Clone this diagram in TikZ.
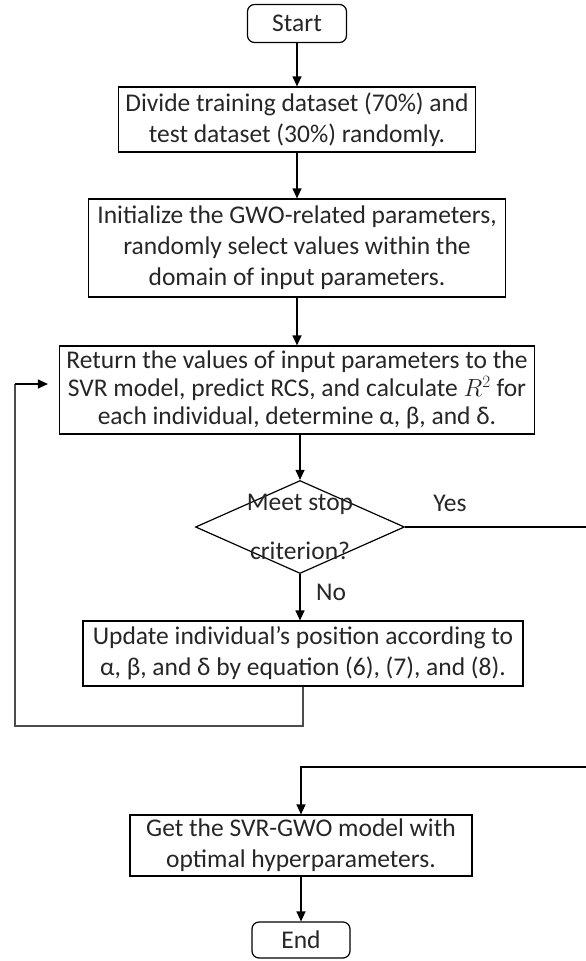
\documentclass[tikz,border=0pt]{standalone}
\usepackage{fontspec}
\setmainfont{Carlito}
\usetikzlibrary{shapes.geometric,arrows.meta}
\begin{document}
\begin{tikzpicture}[x=1pt,y=-1pt,
  every node/.style={font=\fontsize{25.5}{31}\selectfont, text=black!85},
  box/.style={draw=black, line width=1.2pt, rectangle, inner sep=0pt, align=center},
  term/.style={box, rounded corners=7pt},
  ln/.style={line width=1.2pt, draw=black},
  arr/.style={ln, -{Triangle[length=10pt,width=9pt]}},
  loopln/.style={line width=1.4pt, draw=black!70}
]
\useasboundingbox (0,0) rectangle (586,961);
\node[term, minimum width=99pt, minimum height=38pt] (start) at (297,23.5) {Start};
\node[box, minimum width=357pt, minimum height=65pt] (b1) at (297,119.5) {Divide training dataset (70\%) and\\test dataset (30\%) randomly.};
\node[box, minimum width=417pt, minimum height=98pt] (b2) at (297,248) {Initialize the GWO-related parameters,\\randomly select values within the\\domain of input parameters.};
\node[box, minimum width=475pt, minimum height=88pt, font=\fontsize{25.5}{28}\selectfont] (b3) at (297,390) {Return the values of input parameters to the\\SVR model, predict RCS, and calculate \(R^2\) for\\each individual, determine α, β, and δ.};
\node[draw=black, diamond, line width=1.2pt, minimum width=209pt, minimum height=93pt, inner sep=0pt] (d) at (300,527) {};
\node[align=center] (dt) at (d.center) {Meet stop\\[18pt]criterion?};
\node (yes) at (450,503) {Yes};
\node (no) at (331,592) {No};
\node[box, minimum width=440pt, minimum height=65pt] (b4) at (303,653.5) {Update individual’s position according to\\α, β, and δ by equation (6), (7), and (8).};
\node[box, minimum width=342pt, minimum height=61pt] (b5) at (301,845.5) {Get the SVR-GWO model with\\optimal hyperparameters.};
\node[term, minimum width=98pt, minimum height=36pt] (end) at (301,940) {End};

\coordinate (yesend) at (586,527);
\coordinate (retstart) at (586,767);
\coordinate (loopbot) at (15,726);
\coordinate (looptop) at (15,384);

\draw[arr] (start.south) -- (b1.north);
\draw[arr] (b1.south) -- (b2.north);
\draw[arr] (b2.south) -- (b3.north);
\draw[arr] (b3.south -| d.north) -- (d.north);
\draw[ln] (d.east) -- (yesend);
\draw[arr] (d.south) -- (b4.north -| d.south);
\draw[loopln] (b4.south) -- (b4.south |- loopbot) -- (loopbot) -- (looptop);
\draw[arr, shorten >=11pt] (looptop) -- (b3.west |- looptop);
\draw[arr] (retstart) -| (b5.north);
\draw[arr] (b5.south) -- (end.north);
\end{tikzpicture}
\end{document}
